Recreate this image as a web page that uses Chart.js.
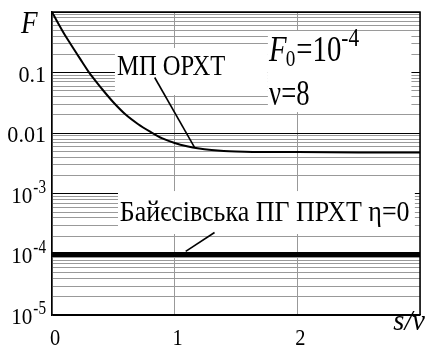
<!DOCTYPE html>
<html>
<head>
<meta charset="utf-8">
<script src="https://cdn.jsdelivr.net/npm/chart.js@4"></script>
<style>
  body { margin: 0; background: #fff; }
  canvas { display: block; }
</style>
</head>
<body>
<canvas id="chart" width="425" height="347"></canvas>
<script>
// curve "МП ОРХТ"
const sMP = [0, 0.05, 0.1, 0.15, 0.2, 0.25, 0.3, 0.35, 0.4, 0.5, 0.6, 0.7, 0.8, 0.9, 1.0, 1.1, 1.2, 1.3, 1.4, 1.5, 1.75, 2, 2.5, 3];
const fMP = [1, 0.65, 0.433, 0.30, 0.209, 0.145, 0.102, 0.075, 0.056, 0.0324, 0.0203, 0.0142, 0.0106, 0.0082, 0.0069, 0.0061, 0.0056, 0.0053, 0.0051, 0.0050, 0.0049, 0.0049, 0.0048, 0.0048];

// flat Bayesian line
const sBayes = [0, 3];
const fBayes = [1e-4, 1e-4];

// leader lines from the labels to the curves
const sLeaderMP = [0.837, 1.163];
const fLeaderMP = [0.083, 0.0058];
const sLeaderBayes = [1.325, 1.09];
const fLeaderBayes = [2.3e-4, 1.12e-4];

// axis ticks
const xTicks = [0, 1, 2, 3];
const xTickLabels = ['0', '1', '2'];
const yTickValues = [0.1, 0.01, 1e-3, 1e-4, 1e-5];
const yTickBase = ['0.1', '0.01', '10', '10', '10'];
const yTickExp = ['', '', '-3', '-4', '-5'];

const SERIF = '"Liberation Serif", "Times New Roman", serif';

const toPoints = (xs, ys) => xs.map((x, i) => ({x: x, y: ys[i]}));

// all gridline values: 1..9 x 10^n
function logGrid (minExp, maxExp)
{
    const out = [];
    for (let e = minExp; e < maxExp; e++) {
        for (let m = 1; m < 10; m++) out.push(+(m * Math.pow(10, e)).toPrecision(3));
    }
    out.push(Math.pow(10, maxExp));
    return out;
}

const isDecade = v => Math.abs(Math.log10(v) - Math.round(Math.log10(v))) < 1e-6;

// white boxes behind the labels (data coords: s from/to, F top/bottom)
const boxes = [
    {s0: 0.513, s1: 1.76, f0: 0.255, f1: 0.0427},
    {s0: 1.76, s1: 2.93, f0: 0.486, f1: 0.0223},
    {s0: 0.538, s1: 2.958, f0: 1.11e-3, f1: 2.17e-4}
];

function drawScaled (ctx, text, x, y, font, scaleX, align)
{
    ctx.save();
    ctx.font = font;
    ctx.textBaseline = 'alphabetic';
    ctx.textAlign = 'left';
    const w = ctx.measureText(text).width * scaleX;
    let left = x;
    if (align === 'right') left = x - w;
    if (align === 'center') left = x - w / 2;
    ctx.translate(left, y);
    ctx.scale(scaleX, 1);
    ctx.fillText(text, 0, 0);
    ctx.restore();
    return w;
}

const decorPlugin = {
    id: 'decor',
    beforeDatasetsDraw (chart)
    {
        const {ctx, scales: {x, y}} = chart;
        ctx.save();
        ctx.fillStyle = '#fff';
        boxes.forEach(b => {
            const x0 = x.getPixelForValue(b.s0), x1 = x.getPixelForValue(b.s1);
            const y0 = y.getPixelForValue(b.f0), y1 = y.getPixelForValue(b.f1);
            ctx.fillRect(x0, y0, x1 - x0, y1 - y0);
        });
        ctx.restore();
    },
    afterDraw (chart)
    {
        const {ctx, chartArea: a, scales: {x, y}} = chart;
        ctx.save();
        // frame top/right
        ctx.strokeStyle = '#000';
        ctx.lineWidth = 1.5;
        ctx.beginPath();
        ctx.moveTo(a.left, a.top);
        ctx.lineTo(a.right, a.top);
        ctx.lineTo(a.right, a.bottom);
        ctx.stroke();

        ctx.fillStyle = '#000';
        // y tick labels
        yTickValues.forEach((v, i) => {
            const py = y.getPixelForValue(v);
            if (yTickExp[i]) {
                const w = drawScaled(ctx, yTickExp[i], 46, py - 1, '19px ' + SERIF, 0.8, 'right');
                drawScaled(ctx, yTickBase[i], 46 - w - 1, py + 9, '24px ' + SERIF, 0.88, 'right');
            } else {
                drawScaled(ctx, yTickBase[i], 46, py + 9, '24px ' + SERIF, 0.92, 'right');
            }
        });
        // x tick labels
        xTickLabels.forEach((t, i) => {
            drawScaled(ctx, t, x.getPixelForValue(i) + 3, 345, '24px ' + SERIF, 0.85, 'center');
        });
        // axis titles
        drawScaled(ctx, 'F', 21, 33, 'italic 32px ' + SERIF, 0.85, 'left');
        drawScaled(ctx, 's/ν', 425, 330, 'italic 30px ' + SERIF, 0.95, 'right');

        // label МП ОРХТ
        drawScaled(ctx, 'МП ОРХТ', x.getPixelForValue(0.53), y.getPixelForValue(0.091), '30px ' + SERIF, 0.82, 'left');

        // F0=10^-4, ν=8
        let px = x.getPixelForValue(1.77);
        let py = y.getPixelForValue(0.155);
        px += drawScaled(ctx, 'F', px, py, 'italic 36px ' + SERIF, 0.8, 'left');
        px += drawScaled(ctx, '0', px - 1, py + 5, '24px ' + SERIF, 0.8, 'left');
        px += drawScaled(ctx, '=10', px, py, '36px ' + SERIF, 0.8, 'left');
        drawScaled(ctx, '-4', px, py - 15, '26px ' + SERIF, 0.82, 'left');
        drawScaled(ctx, 'ν=8', x.getPixelForValue(1.77), y.getPixelForValue(0.0295), '36px ' + SERIF, 0.74, 'left');

        // Bayesian label
        drawScaled(ctx, 'Байєсівська ПГ ПРХТ η=0', x.getPixelForValue(0.553), y.getPixelForValue(3.5e-4), '30px ' + SERIF, 0.865, 'left');
        ctx.restore();
    }
};

new Chart(document.getElementById('chart'), {
    type: 'line',
    data: {
        datasets: [
            {
                data: toPoints(sMP, fMP),
                borderColor: '#000',
                borderWidth: 2,
                pointRadius: 0,
                cubicInterpolationMode: 'monotone'
            },
            {
                data: toPoints(sBayes, fBayes),
                borderColor: '#000',
                borderWidth: 5,
                pointRadius: 0
            },
            {
                data: toPoints(sLeaderMP, fLeaderMP),
                borderColor: '#000',
                borderWidth: 1.6,
                pointRadius: 0
            },
            {
                data: toPoints(sLeaderBayes, fLeaderBayes),
                borderColor: '#000',
                borderWidth: 1.6,
                pointRadius: 0
            }
        ]
    },
    options: {
        responsive: false,
        animation: false,
        layout: {padding: {left: 52, right: 5, top: 12, bottom: 32}},
        plugins: {legend: {display: false}, tooltip: {enabled: false}},
        scales: {
            x: {
                type: 'linear',
                min: 0,
                max: 3,
                afterBuildTicks: s => { s.ticks = xTicks.map(v => ({value: v})); },
                afterFit: s => { s.height = 0; },
                ticks: {display: false},
                grid: {color: '#999', lineWidth: 1, drawTicks: false},
                border: {color: '#000', width: 1.5}
            },
            y: {
                type: 'logarithmic',
                min: 1e-5,
                max: 1,
                afterBuildTicks: s => { s.ticks = logGrid(-5, 0).map(v => ({value: v})); },
                afterFit: s => { s.width = 0; },
                ticks: {display: false},
                grid: {
                    color: c => (c.tick && isDecade(c.tick.value)) ? '#000' : '#999',
                    lineWidth: 1,
                    drawTicks: false
                },
                border: {color: '#000', width: 1.5}
            }
        }
    },
    plugins: [decorPlugin]
});
</script>
</body>
</html>
